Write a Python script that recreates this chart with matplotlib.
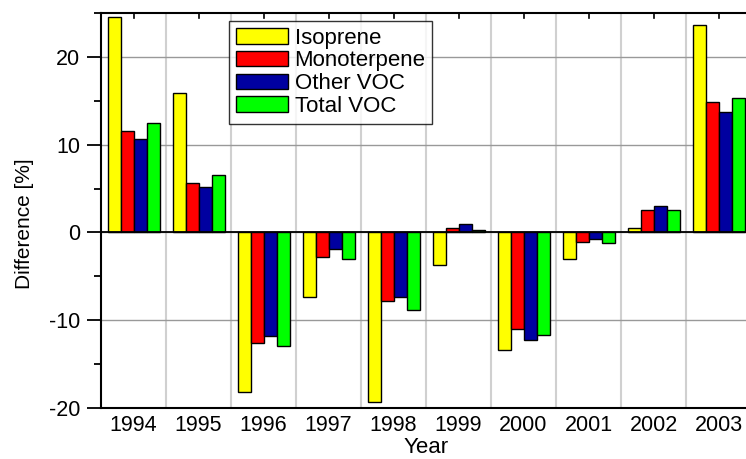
import matplotlib
matplotlib.use("Agg")
import matplotlib.pyplot as plt
import numpy as np

plt.rcParams['font.family'] = ['Liberation Sans', 'DejaVu Sans']
plt.rcParams['axes.unicode_minus'] = False

years = ["1994", "1995", "1996", "1997", "1998", "1999", "2000", "2001", "2002", "2003"]
isoprene = [24.6, 15.9, -18.2, -7.4, -19.3, -3.7, -13.4, -3.0, 0.5, 23.6]
monoterpene = [11.6, 5.6, -12.6, -2.8, -7.8, 0.5, -11.0, -1.1, 2.5, 14.9]
other_voc = [10.6, 5.2, -11.8, -1.9, -7.4, 1.0, -12.2, -0.7, 3.0, 13.7]
total_voc = [12.5, 6.5, -12.9, -3.0, -8.8, 0.3, -11.7, -1.2, 2.5, 15.3]

series = [
    ("Isoprene", isoprene, "#ffff00"),
    ("Monoterpene", monoterpene, "#ff0000"),
    ("Other VOC", other_voc, "#0000a0"),
    ("Total VOC", total_voc, "#00ff00"),
]

fig = plt.figure(figsize=(7.46, 4.59), dpi=100)
ax = fig.add_axes([101 / 746, 51 / 459, 650 / 746, 395 / 459])

x = np.arange(len(years))
w = 0.2
for i, (name, vals, col) in enumerate(series):
    ax.bar(x + (i - 1.5) * w, vals, width=w, color=col, edgecolor="black",
           linewidth=1.0, label=name, zorder=3)

ax.axhline(0, color="black", linewidth=1.3, zorder=4)

ax.set_xlim(-0.5, len(years) - 0.5)
ax.set_ylim(-20, 25)
ax.set_yticks([-20, -10, 0, 10, 20])
ax.set_yticks([-15, -5, 5, 15, 25], minor=True)
ax.set_xticks(x)
ax.set_xticklabels(years)
ax.set_xticks(x + 0.5, minor=True)

ax.tick_params(axis="y", which="major", direction="out", length=10, width=1.3,
               labelsize=15.5, pad=5)
ax.tick_params(axis="y", which="minor", direction="out", length=5, width=1.3)
ax.tick_params(axis="x", which="major", length=0, labelsize=15.5, pad=5)
ax.tick_params(axis="x", which="minor", length=0)

ax.grid(axis="x", which="minor", color="#d0d0d0", linewidth=1.5, zorder=0)
ax.grid(axis="y", which="major", color="#999999", linewidth=1.0, zorder=0)
ax.set_axisbelow(True)

for s in ["left", "bottom", "top"]:
    ax.spines[s].set_linewidth(1.5)
ax.spines["right"].set_visible(False)

# short inward ticks on the top spine
for xi in x:
    ax.plot([xi, xi], [25, 24.4], color="black", linewidth=1.2, clip_on=False, zorder=5)

ax.set_xlabel("Year", fontsize=16, labelpad=1)
ax.set_ylabel("Difference [%]", fontsize=15)
ax.yaxis.set_label_coords(-0.103, 0.466)

leg = ax.legend(loc="upper left", bbox_to_anchor=(229 / 746, 1 - 21 / 459),
                bbox_transform=fig.transFigure, fontsize=16, frameon=True,
                fancybox=False, shadow=False, handlelength=2.35, handleheight=0.7,
                labelspacing=0.08, handletextpad=0.3, borderpad=0.3,
                borderaxespad=0)
leg.get_frame().set_edgecolor("black")
leg.get_frame().set_linewidth(1.0)
leg.set_zorder(6)

fig.savefig("out.png", dpi=100)
